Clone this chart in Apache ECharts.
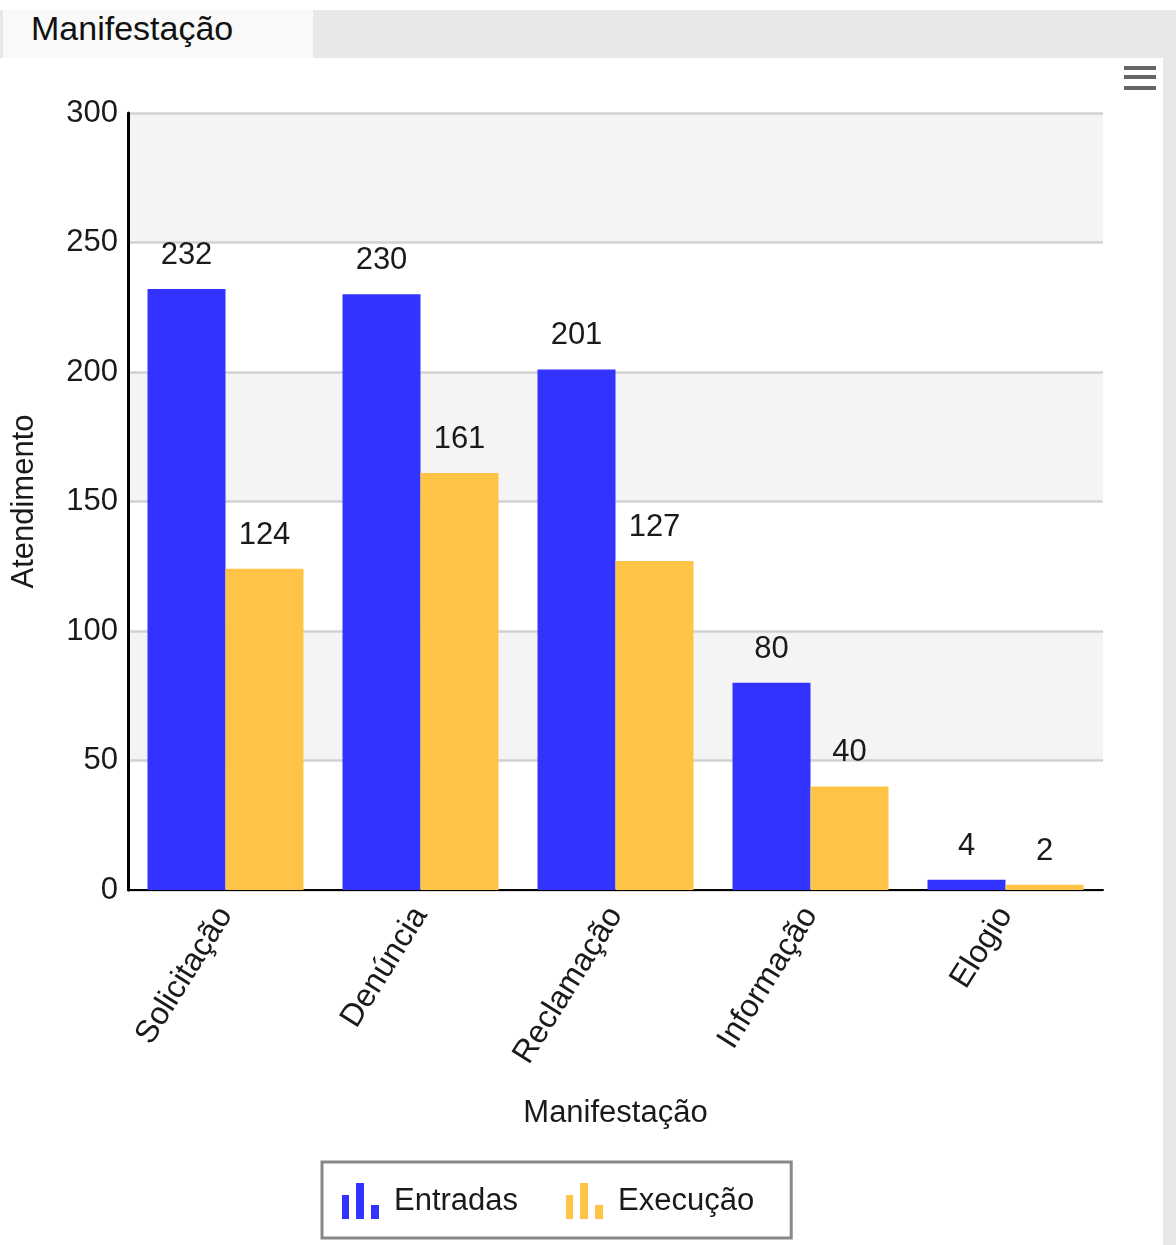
<!DOCTYPE html>
<html>
<head>
<meta charset="utf-8">
<script src="https://cdn.jsdelivr.net/npm/echarts@6/dist/echarts.min.js"></script>
<style>
  html, body { margin: 0; padding: 0; background: #ffffff; width: 1176px; height: 1245px; overflow: hidden; font-family: "Liberation Sans", Arial, sans-serif; }
  #band { position: absolute; left: 0; top: 10px; width: 1176px; height: 48px; background: #e8e8e8; }
  #tab { position: absolute; left: 3px; top: 10px; width: 310px; height: 50px; background: #f9f9f9; color: #111; font-size: 34px; line-height: 36px; padding-left: 28px; box-sizing: border-box; }
  #strip { position: absolute; left: 1163px; top: 58px; width: 13px; height: 1187px; background: #e8e8e8; }
  #chart { position: absolute; left: 0; top: 58px; width: 1163px; height: 1187px; background: #ffffff; }
</style>
</head>
<body>
<div id="band"></div>
<div id="tab">Manifestação</div>
<div id="strip"></div>
<div id="chart"></div>
<script>
const categories = ['Solicitação', 'Denúncia', 'Reclamação', 'Informação', 'Elogio'];
const entradas = [232, 230, 201, 80, 4];
const execucao = [124, 161, 127, 40, 2];
const seriesNames = ['Entradas', 'Execução'];
const yTicks = { min: 0, max: 300, interval: 50 };
const xAxisName = 'Manifestação';
const yAxisName = 'Atendimento';

const barIcon = 'path://M0,12h7v24H0z M14,0h8v36h-8z M29,22h8v14h-8z';
const font = '"Liberation Sans", Arial, sans-serif';
const labelStyle = { show: true, position: 'top', distance: 18, fontSize: 31, color: '#1a1a1a', fontFamily: font };

const chart = echarts.init(document.getElementById('chart'));
chart.setOption({
  animation: false,
  textStyle: { fontFamily: font },
  toolbox: {
    right: -8, top: -7, itemSize: 32,
    feature: {
      myMenu: {
        show: true, title: '',
        icon: 'path://M0,0H32V4H0Z M0,9H32V13H0Z M0,20H32V24H0Z',
        onclick: function () {}
      }
    },
    iconStyle: { color: '#666', borderWidth: 0 }
  },
  legend: {
    data: seriesNames,
    left: 322, bottom: 7,
    icon: barIcon,
    itemWidth: 37, itemHeight: 36, itemGap: 48,
    padding: [21, 37, 19, 20],
    borderColor: '#888', borderWidth: 3,
    textStyle: { fontSize: 31, color: '#1a1a1a', fontFamily: font, padding: [0, 0, 0, 10] }
  },
  grid: { left: 128, right: 60, top: 55, bottom: 355, containLabel: false },
  xAxis: {
    type: 'category',
    data: categories,
    name: xAxisName,
    nameLocation: 'middle',
    nameGap: 208,
    nameTextStyle: { fontSize: 31, color: '#1a1a1a', fontFamily: font },
    axisLine: { lineStyle: { color: '#000', width: 2 } },
    axisTick: { show: false },
    axisLabel: { rotate: 58, fontSize: 32, color: '#1a1a1a', margin: 20, fontFamily: font, interval: 0 }
  },
  yAxis: {
    type: 'value',
    min: yTicks.min, max: yTicks.max, interval: yTicks.interval,
    name: yAxisName,
    nameLocation: 'middle',
    nameGap: 88,
    nameTextStyle: { fontSize: 31, color: '#1a1a1a', fontFamily: font },
    axisLine: { show: true, lineStyle: { color: '#000', width: 3 } },
    axisTick: { show: false },
    axisLabel: { fontSize: 31, color: '#1a1a1a', margin: 10, fontFamily: font },
    splitLine: { lineStyle: { color: '#d2d2d2', width: 2.5 } },
    splitArea: { show: true, areaStyle: { color: ['#ffffff', '#f4f4f4'] } }
  },
  series: [
    {
      name: seriesNames[0], type: 'bar', data: entradas,
      barGap: '0%', barCategoryGap: '20%',
      itemStyle: { color: '#3333ff' },
      label: labelStyle
    },
    {
      name: seriesNames[1], type: 'bar', data: execucao,
      barGap: '0%', barCategoryGap: '20%',
      itemStyle: { color: '#ffc445' },
      label: labelStyle
    }
  ]
});
</script>
</body>
</html>
